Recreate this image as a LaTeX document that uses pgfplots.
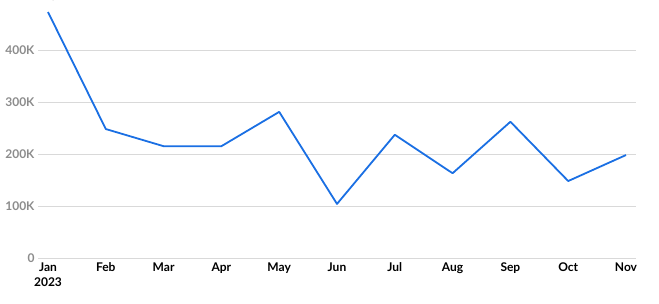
\documentclass[border=0pt]{standalone}
\usepackage{pgfplots}
\pgfplotsset{compat=1.18}
\usepackage{fontspec}
\setmainfont{Lato}
\definecolor{lineblue}{HTML}{1A6FE3}
\definecolor{gridgray}{HTML}{D9D9D9}
\definecolor{labgray}{HTML}{8C8C8C}
\begin{document}
\begin{tikzpicture}[x=1pt,y=1pt]
\path[use as bounding box] (0,0) rectangle (659,304);
\begin{axis}[
  at={(38pt,46pt)}, anchor=south west,
  scale only axis, width=598pt, height=249.6pt,
  xmin=-0.173, xmax=10.173, ymin=0, ymax=480000,
  axis line style={draw=none},
  tick style={draw=none},
  ymajorgrids, major grid style={gridgray, line width=0.8pt},
  xtick={0,...,10},
  xticklabels={{Jan\\2023},Feb,Mar,Apr,May,Jun,Jul,Aug,Sep,Oct,Nov},
  xticklabel style={align=center, font=\fontsize{12}{15}\selectfont\bfseries, text=black, yshift=-1pt},
  ytick={0,100000,200000,300000,400000},
  yticklabels={0,100K,200K,300K,400K},
  yticklabel style={font=\fontsize{12}{13}\selectfont\bfseries, text=labgray, xshift=0pt},
  clip=false,
]
\addplot[lineblue, line width=1.8pt, line join=round] coordinates {
(0,473000) (1,248000) (2,215000) (3,215000) (4,281000) (5,104000)
(6,237000) (7,163000) (8,262000) (9,148000) (10,198000)
};
\end{axis}
\end{tikzpicture}
\end{document}
